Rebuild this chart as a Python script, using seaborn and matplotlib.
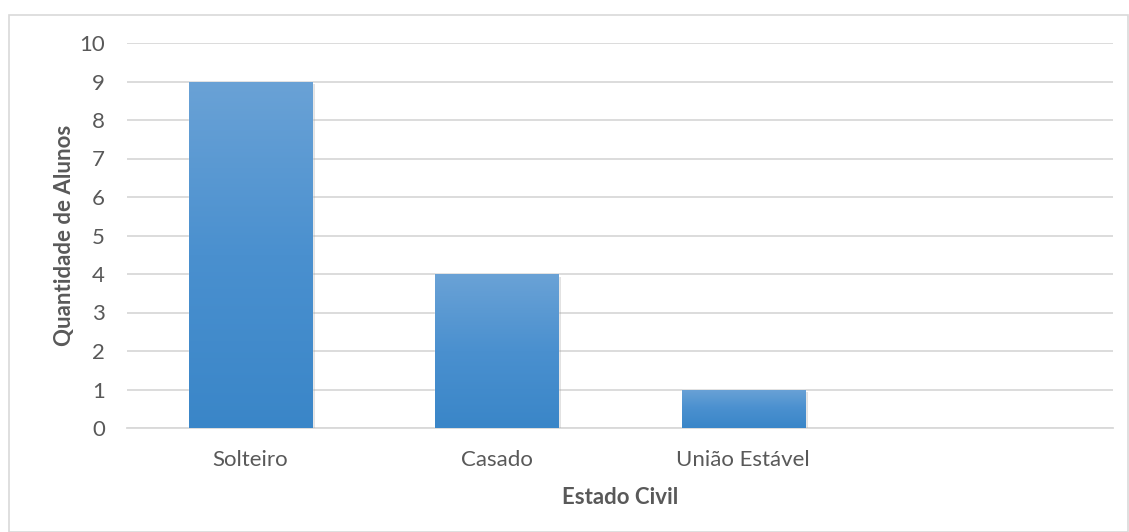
import numpy as np
import pandas as pd
import matplotlib
matplotlib.use("Agg")
import matplotlib.pyplot as plt
import matplotlib.patheffects as pe
from matplotlib.patches import Rectangle
from matplotlib.colors import LinearSegmentedColormap
import seaborn as sns

categories = ["Solteiro", "Casado", "União Estável", " "]
values = [9, 4, 1, 0]
y_ticks = list(range(0, 11))

sns.set_theme(style="white")
plt.rcParams['font.family'] = ['Lato', 'DejaVu Sans']

text_color = "#595959"
grid_color = "#d9d9d9"

fig = plt.figure(figsize=(11.29, 5.32), dpi=100)
ax = fig.add_axes([127/1129, 1 - 428/532, (1113-127)/1129, (428-43)/532])

df = pd.DataFrame({"cat": categories, "val": values})
sns.barplot(data=df, x="cat", y="val", ax=ax, color="#5b9bd5", width=0.5,
            saturation=1, zorder=3)

ax.set_ylim(0, 10)
ax.set_yticks(y_ticks)
ax.set_xlim(-0.5, len(categories) - 0.5)
ax.grid(axis="y", color=grid_color, linewidth=1.3, zorder=0)
ax.set_axisbelow(True)
for s in ["top", "right", "left"]:
    ax.spines[s].set_visible(False)
ax.spines["bottom"].set_color(grid_color)
ax.spines["bottom"].set_linewidth(1.3)
ax.tick_params(axis="both", length=0, colors=text_color, labelsize=16)
ax.tick_params(axis="y", pad=16)
ax.tick_params(axis="x", pad=16)

cmap = LinearSegmentedColormap.from_list("g", ["#3a86c8", "#4a90cf", "#6aa2d6"])
grad = np.linspace(0, 1, 256).reshape(-1, 1)
for p in list(ax.patches):
    h = p.get_height()
    if h <= 0:
        p.set_visible(False)
        continue
    x0 = p.get_x(); w = p.get_width()
    p.set_path_effects([pe.SimplePatchShadow(offset=(2, -2), shadow_rgbFace="#a0a0a0", alpha=0.3),
                        pe.Normal()])
    im = ax.imshow(grad, extent=[x0, x0 + w, 0, h], origin="lower", cmap=cmap,
                   aspect="auto", zorder=4)
    im.set_clip_path(p)
ax.set_xlim(-0.5, len(categories) - 0.5)
ax.set_ylim(0, 10)

ax.set_xlabel("Estado Civil", fontsize=16, fontweight="bold", color=text_color, labelpad=12)
ax.set_ylabel("Quantidade de Alunos", fontsize=16, fontweight="bold", color=text_color, labelpad=3)

fig.patches.append(Rectangle((9/1129, 0), 1 - 9/1129 - 0.001, 1 - 15/532, transform=fig.transFigure,
                             fill=False, edgecolor=grid_color, linewidth=1.2))

fig.savefig("out.png", dpi=100)
